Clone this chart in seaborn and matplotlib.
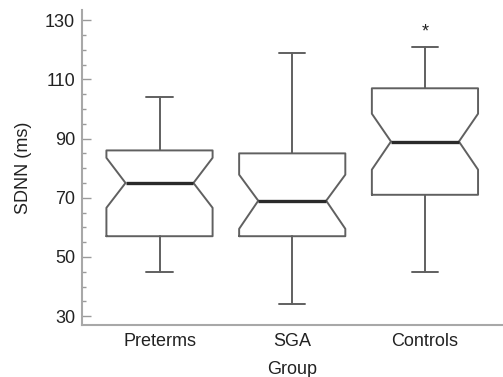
import numpy as np
import matplotlib
matplotlib.use('Agg')
import matplotlib.pyplot as plt
import seaborn as sns

# Five-number summaries and notch limits
groups = ['Preterms', 'SGA', 'Controls']
whisker_low = [45, 34, 45]
q1 = [57, 57, 71]
median = [75, 69, 89]
q3 = [86, 85, 107]
whisker_high = [104, 119, 121]
notch_low = [66.6, 59.5, 79.5]
notch_high = [83.5, 77.8, 98.4]
y_ticks = [30, 50, 70, 90, 110, 130]
star_label = '*'
star_group = 'Controls'
star_value = 126

sns.set_style('ticks')
plt.rcParams['font.family'] = ['Liberation Sans', 'DejaVu Sans']

fig = plt.figure(figsize=(5.03, 3.77), dpi=100)
ax = fig.add_axes([0.163, 0.138, 0.837, 0.835])

stats = []
for i, g in enumerate(groups):
    stats.append({
        'label': g, 'whislo': whisker_low[i], 'q1': q1[i], 'med': median[i],
        'q3': q3[i], 'whishi': whisker_high[i], 'cilo': notch_low[i],
        'cihi': notch_high[i], 'fliers': [],
    })

box_color = '#606060'
positions = list(range(len(groups)))
box_w = 0.8
art = ax.bxp(stats, positions=positions, widths=box_w, shownotches=True,
             showfliers=False, capwidths=0.196,
             boxprops=dict(color=box_color, linewidth=1.4),
             whiskerprops=dict(color=box_color, linewidth=1.4),
             capprops=dict(color=box_color, linewidth=1.4),
             medianprops=dict(color='#2a2a2a', linewidth=2.4))

# widen the notch inset a little (reference notches are ~64% of box width)
frac = 0.32
for pos, box, med in zip(positions, art['boxes'], art['medians']):
    xd = np.asarray(box.get_xdata(), dtype=float)
    inner = np.isclose(np.abs(xd - pos), box_w * 0.25)
    xd[inner] = pos + np.sign(xd[inner] - pos) * box_w * frac
    box.set_xdata(xd)
    med.set_xdata([pos - box_w * frac, pos + box_w * frac])

ax.text(groups.index(star_group), star_value, star_label, ha='center',
        va='center', fontsize=13, color='#222222')

ax.set_xlim(-0.584, 2.588)
ax.set_ylim(27, 133.4)
ax.set_yticks(y_ticks)
ax.set_yticks(np.arange(30, 131, 5), minor=True)
ax.set_xticks(positions)
ax.set_xticklabels(groups)
ax.tick_params(axis='y', which='major', direction='in', length=6.5,
               width=1, color='#9a9a9a', labelsize=13, pad=5,
               labelcolor='#222222')
ax.tick_params(axis='y', which='minor', direction='in', length=3,
               width=1, color='#9a9a9a')
ax.tick_params(axis='x', length=0, labelsize=13, pad=6, labelcolor='#222222')
ax.set_xlabel('Group', fontsize=13, labelpad=8, color='#222222')
ax.set_ylabel('SDNN (ms)', fontsize=13, labelpad=9, color='#222222')

sns.despine(ax=ax)
for s in ['left', 'bottom']:
    ax.spines[s].set_color('#a8a8a8')
    ax.spines[s].set_linewidth(1.5)

fig.savefig('out.png', dpi=100)
